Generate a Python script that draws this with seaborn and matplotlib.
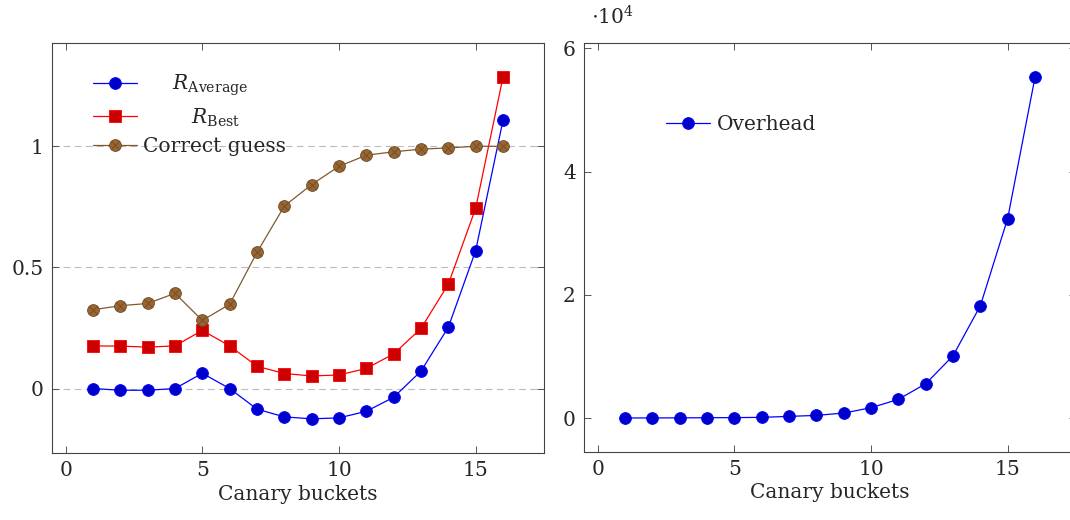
# Recreates the canary-bucket charts (ratio curves + overhead)

import matplotlib
matplotlib.use("Agg")
import matplotlib.pyplot as plt
from matplotlib.path import Path
from matplotlib.ticker import FuncFormatter
import seaborn as sns

buckets = list(range(1, 17))

r_average = [0.000, -0.007, -0.007, 0.000, 0.063, 0.000, -0.085, -0.117,
             -0.125, -0.121, -0.094, -0.036, 0.072, 0.253, 0.569, 1.107]
r_best = [0.176, 0.175, 0.171, 0.176, 0.240, 0.176, 0.092, 0.062,
          0.052, 0.056, 0.083, 0.143, 0.248, 0.431, 0.744, 1.285]
correct_guess = [0.325, 0.342, 0.351, 0.393, 0.281, 0.348, 0.562, 0.753,
                 0.842, 0.917, 0.963, 0.977, 0.988, 0.993, 1.000, 0.9995]
overhead = [10, 20, 30, 50, 70, 110, 270, 430,
            810, 1670, 3030, 5560, 10100, 18210, 32380, 55290]

left_xticks = [0, 5, 10, 15]
left_yticks = [0, 0.5, 1]
right_yticks = [0, 20000, 40000, 60000]

FS = 14.5

sns.set_style("ticks")
plt.rcParams["font.family"] = ["DejaVu Serif"]
plt.rcParams["mathtext.fontset"] = "dejavuserif"
plt.rcParams["font.size"] = FS

# filled circle with a cross (pgfplots otimes*)
s = 0.7071
otimes = Path.make_compound_path(
    Path.unit_circle(),
    Path([(-s, -s), (s, s), (-s, s), (s, -s)],
         [Path.MOVETO, Path.LINETO, Path.MOVETO, Path.LINETO]))

fig = plt.figure(figsize=(10.7, 5.2), dpi=100)
W, H = 1070, 520
ax1 = fig.add_axes([52 / W, (H - 453) / H, 492 / W, 410 / H])
ax2 = fig.add_axes([584 / W, (H - 452) / H, 492 / W, 409 / H])

sns.lineplot(x=buckets, y=r_average, ax=ax1, color="#0000ff", lw=0.9,
             marker="o", markersize=8.5, markerfacecolor="#0000cc",
             markeredgecolor="#0000ff", markeredgewidth=0.6,
             label=r"$\quad\;\;R_{\mathrm{Average}}$")
sns.lineplot(x=buckets, y=r_best, ax=ax1, color="#ff0000", lw=0.9,
             marker="s", markersize=8, markerfacecolor="#cc0000",
             markeredgecolor="#ff0000", markeredgewidth=0.6,
             label=r"$\qquad\;\;R_{\mathrm{Best}}$")
sns.lineplot(x=buckets, y=correct_guess, ax=ax1, color="#80582e", lw=0.9,
             marker=otimes, markersize=8.5, markerfacecolor="#996633",
             markeredgecolor="#6e4a26", markeredgewidth=0.6,
             label="Correct guess")

sns.lineplot(x=buckets, y=overhead, ax=ax2, color="#0000ff", lw=0.9,
             marker="o", markersize=8.5, markerfacecolor="#0000cc",
             markeredgecolor="#0000ff", markeredgewidth=0.6,
             label="Overhead")

for ax in (ax1, ax2):
    ax.set_xlim(-0.5, 17.5)
    ax.set_xticks(left_xticks)
    ax.set_xlabel("Canary buckets", labelpad=3)
    ax.set_ylabel("")
    ax.tick_params(direction="in", length=5, width=0.7, color="#555555",
                   top=True, right=True, pad=6, labelsize=FS)
    for sp in ax.spines.values():
        sp.set_color("#444444")
        sp.set_linewidth(0.8)

ax1.set_ylim(-0.266, 1.426)
ax1.set_yticks(left_yticks)
ax1.yaxis.set_major_formatter(FuncFormatter(lambda v, p: f"{v:g}"))
ax1.grid(axis="y", linestyle=(0, (6, 4)), color="#bbbbbb", lw=0.8)
ax1.set_axisbelow(True)

ax2.set_ylim(-5510, 60860)
ax2.set_yticks(right_yticks)
ax2.yaxis.set_major_formatter(FuncFormatter(lambda v, p: f"{v / 1e4:g}"))
ax2.text(0.015, 1.035, r"$\cdot 10^{4}$", transform=ax2.transAxes,
         ha="left", va="bottom", fontsize=FS)

ax1.legend(loc="upper left", bbox_to_anchor=(0.083, 0.928), frameon=False,
           borderpad=0, borderaxespad=0, handlelength=2.2,
           handletextpad=0.3, labelspacing=0.42, fontsize=FS)
ax2.legend(loc="upper left", bbox_to_anchor=(0.167, 0.825), frameon=False,
           borderpad=0, borderaxespad=0, handlelength=2.2,
           handletextpad=0.3, fontsize=FS)

fig.savefig("out.png", dpi=100)
plt.close(fig)
